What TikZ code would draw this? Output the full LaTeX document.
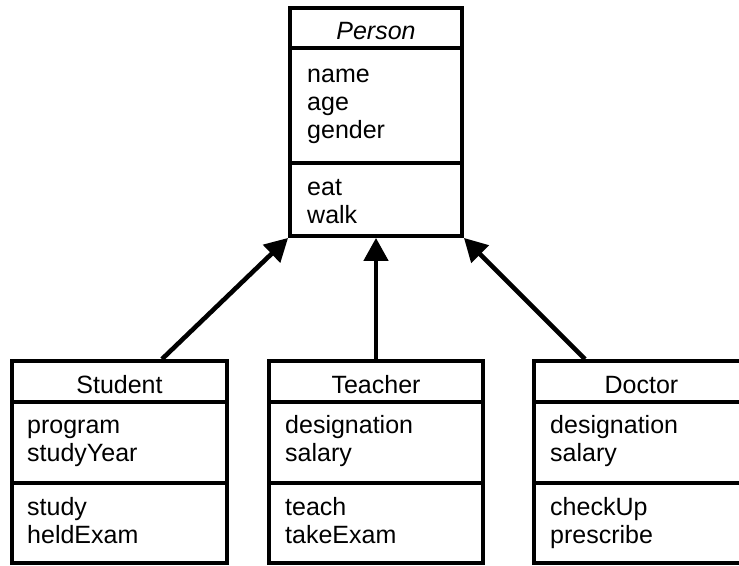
\documentclass[tikz,border=0pt]{standalone}
\usepackage{fontspec}
\setmainfont{Liberation Sans}
\usetikzlibrary{arrows.meta,calc}
\tikzset{
  classbox/.style={draw=black, line width=3.8pt, fill=white, inner sep=0pt},
  sep/.style={line width=3.8pt},
  txt/.style={anchor=base west, inner sep=0pt, font=\fontsize{25}{28}\selectfont},
  ttl/.style={anchor=base, inner sep=0pt, font=\fontsize{25}{28}\selectfont},
  inh/.style={line width=4.6pt, -{Triangle[length=23pt,width=24pt]}}
}
\begin{document}
\begin{tikzpicture}[x=1pt,y=-1pt]
\useasboundingbox (0,0) rectangle (739,565);
\clip (0,0) rectangle (739,565);
% Person
\node[classbox, minimum width=172pt, minimum height=228pt] (person) at (376,122) {};
\draw[sep] (person.west |- 0,48) -- (person.east |- 0,48);
\draw[sep] (person.west |- 0,163) -- (person.east |- 0,163);
\node[ttl, font=\fontsize{25}{28}\selectfont\itshape] (pt) at (376,39) {Person};
\node[txt] (pa1) at (307,82) {name};
\node[txt] (pa2) at (307,110) {age};
\node[txt] (pa3) at (307,138) {gender};
\node[txt] (pm1) at (307,195) {eat};
\node[txt] (pm2) at (307,223) {walk};
% Student
\node[classbox, minimum width=215pt, minimum height=202pt] (student) at (119.5,462) {};
\draw[sep] (student.west |- 0,402) -- (student.east |- 0,402);
\draw[sep] (student.west |- 0,483) -- (student.east |- 0,483);
\node[ttl] (st) at (119.5,393) {Student};
\node[txt] (sa1) at (27,433) {program};
\node[txt] (sa2) at (27,461) {studyYear};
\node[txt] (sm1) at (27,515) {study};
\node[txt] (sm2) at (27,543) {heldExam};
% Teacher
\node[classbox, minimum width=214pt, minimum height=202pt] (teacher) at (376,462) {};
\draw[sep] (teacher.west |- 0,402) -- (teacher.east |- 0,402);
\draw[sep] (teacher.west |- 0,483) -- (teacher.east |- 0,483);
\node[ttl] (tt) at (376,393) {Teacher};
\node[txt] (ta1) at (285,433) {designation};
\node[txt] (ta2) at (285,461) {salary};
\node[txt] (tm1) at (285,515) {teach};
\node[txt] (tm2) at (285,543) {takeExam};
% Doctor
\node[classbox, minimum width=215pt, minimum height=202pt] (doctor) at (641.5,462) {};
\draw[sep] (doctor.west |- 0,402) -- (doctor.east |- 0,402);
\draw[sep] (doctor.west |- 0,483) -- (doctor.east |- 0,483);
\node[ttl] (dt) at (641.5,393) {Doctor};
\node[txt] (da1) at (550,433) {designation};
\node[txt] (da2) at (550,461) {salary};
\node[txt] (dm1) at (550,515) {checkUp};
\node[txt] (dm2) at (550,543) {prescribe};
% Inheritance
\draw[inh] ($(student.north)+(42.5,0)$) -- (person.south west);
\draw[inh] (teacher.north) -- (person.south);
\draw[inh] ($(doctor.north)+(-56.5,0)$) -- (person.south east);
\end{tikzpicture}
\end{document}
